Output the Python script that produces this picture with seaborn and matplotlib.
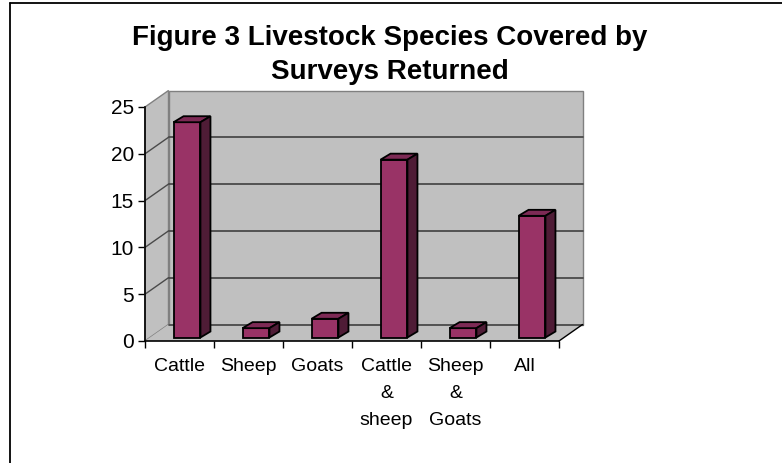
import matplotlib
matplotlib.use("Agg")
import matplotlib.pyplot as plt
from matplotlib.patches import Polygon
from matplotlib.lines import Line2D
import seaborn as sns
import pandas as pd

# Survey counts per livestock species group
categories = ["Cattle", "Sheep", "Goats", "Cattle\n&\nsheep", "Sheep\n&\nGoats", "All"]
counts = [23, 1, 2, 19, 1, 13]
y_ticks = [0, 5, 10, 15, 20, 25]

sns.set_theme(style="white")
plt.rcParams["font.family"] = ["Liberation Sans", "DejaVu Sans"]
plt.rcParams["text.color"] = "black"
plt.rcParams["xtick.color"] = "black"
plt.rcParams["ytick.color"] = "black"
plt.rcParams["xtick.labelcolor"] = "black"
plt.rcParams["ytick.labelcolor"] = "black"

W, H = 782, 463
fig = plt.figure(figsize=(W / 100, H / 100), dpi=100)

# front plane of the chart box (pixels)
x0_px, x1_px, y0_px, y1_px = 145, 559, 341, 107
ax = fig.add_axes([x0_px / W, 1 - y0_px / H, (x1_px - x0_px) / W, (y0_px - y1_px) / H])

df = pd.DataFrame({"group": categories, "surveys": counts})
sns.barplot(data=df, x="group", y="surveys", order=categories, color="#993366",
            saturation=1, width=0.39, edgecolor="black", linewidth=1.3, ax=ax, zorder=5)

n = len(categories)
xmin, xmax = -0.5, n - 0.5
ymax = 25
ax.set_xlim(xmin, xmax)
ax.set_ylim(0, ymax)
ax.patch.set_visible(False)

px_x = (x1_px - x0_px) / (xmax - xmin)   # pixels per category
px_y = (y0_px - y1_px) / ymax            # pixels per count

# depth of the box and of the bars
DX, DY = 23.5 / px_x, 16.5 / px_y
bdx, bdy = 10 / px_x, 6 / px_y
shift, base = 7.5 / px_x, 3.5 / px_y

wall = "#C0C0C0"
edge = "#808080"
grid = "#4A4A4A"

def poly(pts, fc, ec, lw=1.0, z=1):
    p = Polygon(pts, closed=True, facecolor=fc, edgecolor=ec, linewidth=lw,
                clip_on=False, zorder=z, joinstyle="miter")
    ax.add_patch(p)

bars = [b for b in ax.patches if type(b).__name__ == "Rectangle"]

# left wall, back wall, floor
poly([(xmin, 0), (xmin + DX, DY), (xmin + DX, ymax + DY), (xmin, ymax)], wall, edge)
poly([(xmin + DX, DY), (xmax + DX, DY), (xmax + DX, ymax + DY), (xmin + DX, ymax + DY)], wall, edge)
poly([(xmin, 0), (xmax, 0), (xmax + DX, DY), (xmin + DX, DY)], wall, "none")

for v in y_ticks[:-1]:
    ax.add_line(Line2D([xmin + DX, xmax + DX], [v + DY, v + DY], color=grid, lw=1.3,
                       clip_on=False, zorder=2))
    if v > 0:
        ax.add_line(Line2D([xmin, xmin + DX], [v, v + DY], color=grid, lw=1.0,
                           clip_on=False, zorder=2))
ax.add_line(Line2D([xmax, xmax + DX], [0, DY], color="black", lw=1.0, clip_on=False, zorder=2))

# 3-D bar faces: front from seaborn, top and side added behind it
for bar in bars:
    bar.set_x(bar.get_x() + shift)
    h = bar.get_height()
    bar.set_y(base)
    bx0 = bar.get_x()
    bx1 = bx0 + bar.get_width()
    by0 = base
    by1 = base + h
    poly([(bx0, by1), (bx1, by1), (bx1 + bdx, by1 + bdy), (bx0 + bdx, by1 + bdy)],
         "#7D2A55", "black", 1.3, 6)
    poly([(bx1, by0), (bx1 + bdx, by0 + bdy), (bx1 + bdx, by1 + bdy), (bx1, by1)],
         "#4F1C36", "black", 1.3, 6)

# axes styling
for s in ["top", "right"]:
    ax.spines[s].set_visible(False)
for s in ["left", "bottom"]:
    ax.spines[s].set_color("black")
    ax.spines[s].set_linewidth(1.2)
    ax.spines[s].set_zorder(3)

ax.set_yticks(y_ticks)
ax.set_yticklabels([str(v) for v in y_ticks])
ax.set_xticks(range(n))
ax.set_xticklabels(categories, linespacing=1.8, ha="center", va="top")
ax.set_xticks([i - 0.5 for i in range(n + 1)], minor=True)
ax.tick_params(axis="y", direction="out", length=5, width=1, color="black",
               labelsize=15, pad=3, left=True)
ax.tick_params(axis="x", which="major", length=0, labelsize=14, pad=12)
ax.tick_params(axis="x", which="minor", direction="out", length=5, width=1,
               color="black", bottom=True)
ax.set_xlabel("")
ax.set_ylabel("")
ax.grid(False)

fig.text(390 / W, 1 - 25 / H, "Figure 3 Livestock Species Covered by\nSurveys Returned",
         ha="center", va="top", fontsize=20, fontweight="bold", linespacing=1.4,
         color="black")

# outer frame
fig.add_artist(Line2D([10 / W, 10 / W], [0, 1 - 3 / H], color="black", lw=1.3))
fig.add_artist(Line2D([10 / W, 1], [1 - 3 / H, 1 - 3 / H], color="black", lw=1.3))

fig.savefig("out.png", dpi=100)
